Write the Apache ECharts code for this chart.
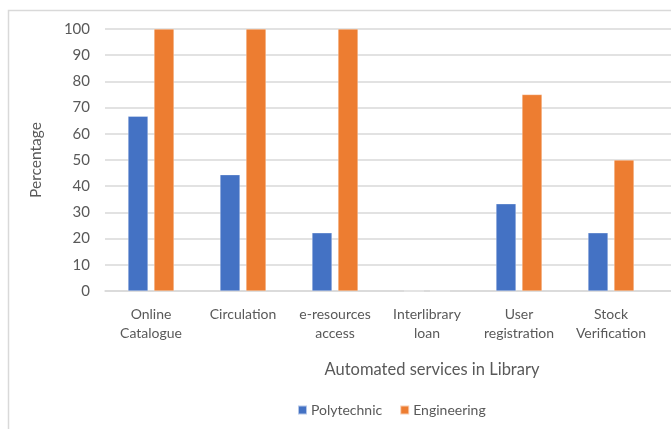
<!DOCTYPE html>
<html>
<head>
<meta charset="utf-8">
<script src="https://cdn.jsdelivr.net/npm/echarts@6/dist/echarts.min.js"></script>
<style>
  html, body { margin: 0; padding: 0; background: #fff; }
  #chart { width: 671px; height: 429px; }
</style>
</head>
<body>
<div id="chart"></div>
<script>
// Automated library services, share of institutions (%)
const categories = ['Online\nCatalogue', 'Circulation', 'e-resources\naccess', 'Interlibrary\nloan', 'User\nregistration', 'Stock\nVerification'];
const polytechnic = [66.7, 44.4, 22.2, 0, 33.3, 22.2];
const engineering = [100, 100, 100, 0, 75, 50];
const yTicks = [0, 10, 20, 30, 40, 50, 60, 70, 80, 90, 100];

const FONT = 'Lato';
const TEXT = '#595959';
const LINE = '#d9d9d9';

const chart = echarts.init(document.getElementById('chart'), null, { renderer: 'canvas' });

chart.setOption({
  animation: false,
  backgroundColor: '#fff',
  textStyle: { fontFamily: FONT },
  title: {
    text: 'Automated services in Library',
    left: 427, top: 356, textAlign: 'center',
    textStyle: { fontFamily: FONT, fontSize: 16.5, fontWeight: 'normal', color: TEXT }
  },
  legend: {
    data: ['Polytechnic', 'Engineering'],
    left: 297, top: 403, padding: 0,
    icon: 'rect', itemWidth: 9, itemHeight: 9, itemGap: 17,
    textStyle: { fontFamily: FONT, fontSize: 14, color: TEXT, padding: [0, 0, 0, -1] }
  },
  graphic: [{
    type: 'rect', silent: true, z: -1,
    shape: { x: 8.5, y: 10.5, width: 700, height: 450 },
    style: { fill: 'none', stroke: LINE, lineWidth: 1.5 }
  }],
  grid: [
    { left: 105, right: 14, top: 29, bottom: 138 },
    { left: 105, right: 0, top: 29, bottom: 138 }
  ],
  xAxis: [
    {
      type: 'category', gridIndex: 0, data: categories,
      axisLine: { show: false }, axisTick: { show: false },
      axisLabel: { fontFamily: FONT, fontSize: 14, color: TEXT, lineHeight: 19, margin: 14, interval: 0 }
    },
    {
      type: 'value', gridIndex: 1, min: 0, max: 1, show: true,
      axisLine: { show: true, lineStyle: { color: LINE, width: 1.5 } },
      axisTick: { show: false }, axisLabel: { show: false }, splitLine: { show: false }
    }
  ],
  yAxis: [
    {
      type: 'value', gridIndex: 0, min: yTicks[0], max: yTicks[yTicks.length - 1], interval: 10,
      name: 'Percentage', nameLocation: 'middle', nameGap: 61,
      nameTextStyle: { fontFamily: FONT, fontSize: 15.5, color: TEXT },
      axisLine: { show: false }, axisTick: { show: false },
      axisLabel: { fontFamily: FONT, fontSize: 15, color: TEXT, margin: 15 },
      splitLine: { show: false }
    },
    {
      type: 'value', gridIndex: 1, min: yTicks[0], max: yTicks[yTicks.length - 1], interval: 10,
      axisLine: { show: false }, axisTick: { show: false }, axisLabel: { show: false },
      splitLine: { show: true, lineStyle: { color: LINE, width: 1.5 } }
    }
  ],
  series: [
    {
      name: 'Polytechnic', type: 'bar', xAxisIndex: 0, yAxisIndex: 0,
      data: polytechnic, barWidth: 20, barGap: '30%',
      itemStyle: { color: '#4472C4', borderColor: 'rgba(255,255,255,0.6)', borderWidth: 0.5 }
    },
    {
      name: 'Engineering', type: 'bar', xAxisIndex: 0, yAxisIndex: 0,
      data: engineering, barWidth: 20, barGap: '30%',
      itemStyle: { color: '#ED7D31', borderColor: 'rgba(255,255,255,0.6)', borderWidth: 0.5 }
    },
    {
      type: 'line', xAxisIndex: 1, yAxisIndex: 1, data: [], silent: true
    }
  ]
});
</script>
</body>
</html>
